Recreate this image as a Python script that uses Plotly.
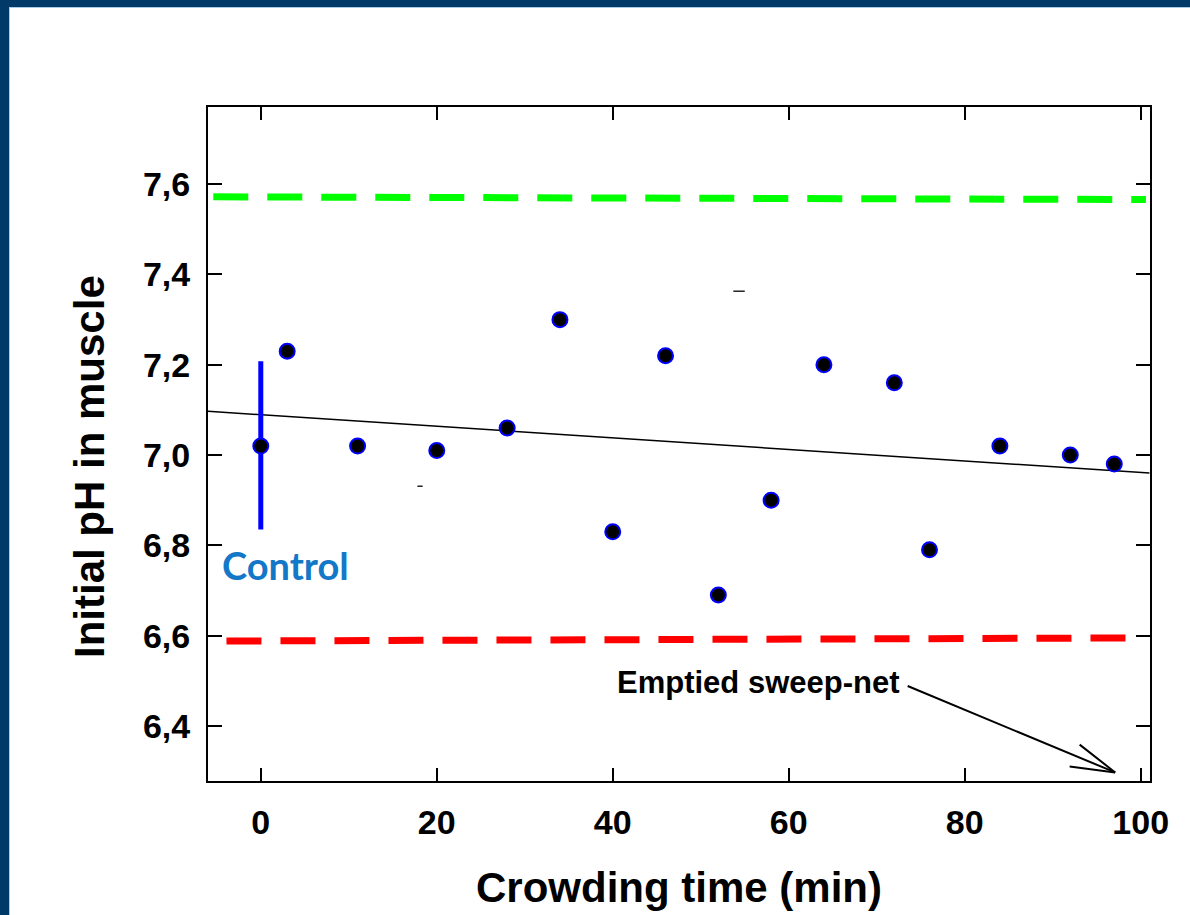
import plotly.graph_objects as go

# ---------------- data ----------------
crowding_time = [0, 3, 11, 20, 28, 34, 40, 46, 52, 58, 64, 72, 76, 84, 92, 97]
ph_values = [7.02, 7.23, 7.02, 7.01, 7.06, 7.30, 6.83, 7.22, 6.69, 6.90, 7.20, 7.16, 6.79, 7.02, 7.00, 6.98]

fit_x = [-6, 101]
fit_y = [7.097, 6.960]

upper_x = [-5.4, 100.6]
upper_y = [7.572, 7.566]

lower_x = [-3.9, 100.2]
lower_y = [6.588, 6.595]

control_x = [0, 0]
control_y = [6.835, 7.208]

arrow_tip = (97.1, 6.297)

x_ticks = [0, 20, 40, 60, 80, 100]
x_ticklabels = ["0", "20", "40", "60", "80", "100"]
y_ticks = [6.4, 6.6, 6.8, 7.0, 7.2, 7.4, 7.6]
y_ticklabels = ["6,4", "6,6", "6,8", "7,0", "7,2", "7,4", "7,6"]

stray_marks = [((17.8, 18.4), 6.931), ((53.7, 55.0), 7.363)]

# ---------------- layout helpers ----------------
W, H = 1190, 915
L, R, T, B = 208, 40, 107, 134
PW, PH = W - L - R, H - T - B


def px_x(p):
    return (p - L) / PW


def px_y(p):
    return (H - B - p) / PH


FONT = "Liberation Sans, Arial, sans-serif"

fig = go.Figure()

fig.add_trace(go.Scatter(x=upper_x, y=upper_y, mode="lines",
                         line=dict(color="#00FF00", width=7, dash="35px,19px"),
                         hoverinfo="skip", showlegend=False))
fig.add_trace(go.Scatter(x=lower_x, y=lower_y, mode="lines",
                         line=dict(color="#FF0000", width=7, dash="35px,19px"),
                         hoverinfo="skip", showlegend=False))
fig.add_trace(go.Scatter(x=fit_x, y=fit_y, mode="lines",
                         line=dict(color="black", width=1.5),
                         hoverinfo="skip", showlegend=False))
fig.add_trace(go.Scatter(x=control_x, y=control_y, mode="lines",
                         line=dict(color="#0000FF", width=5),
                         hoverinfo="skip", showlegend=False))
fig.add_trace(go.Scatter(x=crowding_time, y=ph_values, mode="markers",
                         marker=dict(size=15, color="black",
                                     line=dict(color="#0000FF", width=2)),
                         showlegend=False))

shapes = []
for (xs, yv) in stray_marks:
    shapes.append(dict(type="line", xref="x", yref="y", x0=xs[0], x1=xs[1],
                       y0=yv, y1=yv, line=dict(color="black", width=1.3)))

# dark frame at top and left
BORDER = "#013A68"
shapes += [
    dict(type="rect", xref="paper", yref="paper", x0=px_x(0), x1=px_x(W),
         y0=px_y(7), y1=px_y(-2), fillcolor=BORDER, line=dict(width=0), layer="above"),
    dict(type="rect", xref="paper", yref="paper", x0=px_x(-2), x1=px_x(9),
         y0=px_y(H + 2), y1=px_y(0), fillcolor=BORDER, line=dict(width=0), layer="above"),
    dict(type="rect", xref="paper", yref="paper", x0=px_x(9), x1=px_x(W),
         y0=px_y(8), y1=px_y(7), fillcolor="#A9CBE8", line=dict(width=0), layer="above"),
    dict(type="rect", xref="paper", yref="paper", x0=px_x(9), x1=px_x(10),
         y0=px_y(H + 2), y1=px_y(7), fillcolor="#A9CBE8", line=dict(width=0), layer="above"),
]

annotations = [
    dict(text="<b>Initial pH in muscle</b>", xref="paper", yref="paper",
         x=px_x(89), y=px_y(467), textangle=-90, showarrow=False,
         font=dict(family=FONT, size=42, color="black"),
         xanchor="center", yanchor="middle"),
    dict(text="<b>Crowding time (min)</b>", xref="paper", yref="paper",
         x=px_x(679), y=px_y(887), showarrow=False,
         font=dict(family=FONT, size=42, color="black"),
         xanchor="center", yanchor="middle"),
    dict(text="<b>Control</b>", xref="paper", yref="paper",
         x=px_x(285), y=px_y(565), showarrow=False,
         font=dict(family="Lato, Open Sans, sans-serif", size=38, color="#1478C8"),
         xanchor="center", yanchor="middle"),
    dict(text="<b>Emptied sweep-net</b>", xref="paper", yref="paper",
         x=px_x(758), y=px_y(682), showarrow=False,
         font=dict(family=FONT, size=31, color="black"),
         xanchor="center", yanchor="middle"),
]
# arrow shaft and open head (pixel offsets from the tip)
for ax, ay in [(-209, -87), (-37, -29), (-47, -6)]:
    annotations.append(dict(x=arrow_tip[0], y=arrow_tip[1], xref="x", yref="y",
                            text=" ", font=dict(size=1), showarrow=True,
                            arrowhead=0, arrowwidth=2, arrowcolor="black",
                            ax=ax, ay=ay, standoff=0, startstandoff=0))

axis_common = dict(showline=True, linecolor="black", linewidth=2, mirror="ticks",
                   ticks="inside", tickwidth=2, tickcolor="black", showgrid=False,
                   zeroline=False,
                   tickfont=dict(family=FONT, size=34, color="black"))

fig.update_layout(
    width=W, height=H,
    margin=dict(l=L, r=R, t=T, b=B, pad=0),
    paper_bgcolor="white", plot_bgcolor="white",
    xaxis=dict(range=[-6.0, 101.06], tickvals=x_ticks,
               ticktext=["<b>%s</b>" % t for t in x_ticklabels],
               ticklen=13, ticklabelstandoff=10, **axis_common),
    yaxis=dict(range=[6.278, 7.771], tickvals=y_ticks,
               ticktext=["<b>%s</b>" % t for t in y_ticklabels],
               ticklen=14, ticklabelstandoff=9, **axis_common),
    shapes=shapes,
    annotations=annotations,
    showlegend=False,
)

fig.write_html(
    "out.html",
    config={"displayModeBar": False},
    post_script="document.body.style.margin='0';document.body.style.overflow='hidden';",
)
